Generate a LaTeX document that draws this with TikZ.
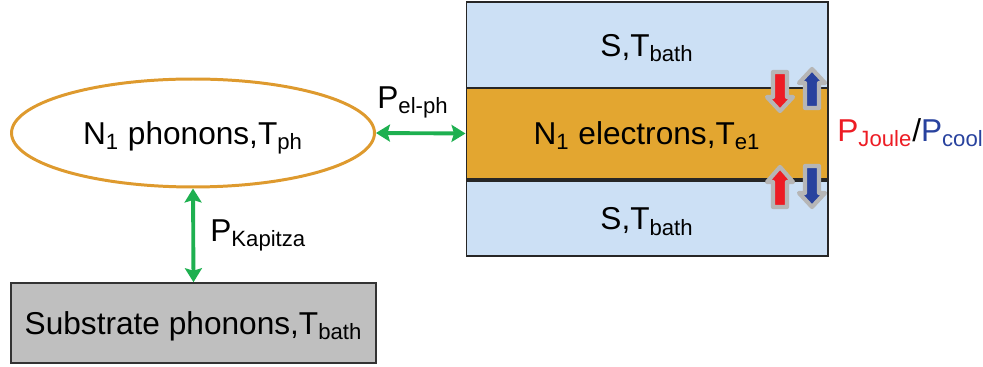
\documentclass[tikz,border=0pt]{standalone}
\usepackage{fontspec}
\setmainfont{Liberation Sans}
\usepackage{xcolor}
\usetikzlibrary{arrows.meta, shapes.geometric}

\definecolor{leadblue}{RGB}{204,224,245}
\definecolor{elecorange}{RGB}{227,166,48}
\definecolor{phonorange}{RGB}{222,154,46}
\definecolor{subgray}{RGB}{191,191,191}
\definecolor{heatgreen}{RGB}{30,176,80}
\definecolor{jouled}{RGB}{237,28,36}
\definecolor{coolblue}{RGB}{40,66,158}
\definecolor{arrowgray}{RGB}{182,182,182}

% block arrow: x, tail y, neck y, tip y, fill colour
\newcommand{\fatarrow}[5]{%
  \filldraw[draw=arrowgray, line width=2.4pt, line join=round, fill=#5]
    (#1-7,#2) -- (#1-7,#3) -- (#1-13,#3) -- (#1,#4) -- (#1+13,#3)
    -- (#1+7,#3) -- (#1+7,#2) -- cycle;}

\begin{document}
\begin{tikzpicture}[x=0.02cm, y=-0.02cm,
    lbl/.style={font=\fontsize{18}{21}\selectfont, text height=12.9pt, text depth=0pt, inner sep=0pt},
    box/.style={lbl, draw=black!85, line width=0.6pt, minimum width=7.24cm},
    heat/.style={draw=heatgreen, line width=2.2pt,
        {Stealth[length=0.28cm,width=0.34cm,inset=0.05cm]}-{Stealth[length=0.28cm,width=0.34cm,inset=0.05cm]}}]
    \useasboundingbox (0,0) rectangle (983,367);

    % Leads and electron island
    \node[box, fill=leadblue, minimum height=1.72cm] (leadtop) at (647,45) {S,T\textsubscript{bath}};
    \node[box, fill=leadblue, minimum height=1.5cm] (leadbot) at (647,218.5) {S,T\textsubscript{bath}};
    \node[box, fill=elecorange, minimum height=1.82cm] (elec) at (647,133.5) {N\textsubscript{1} electrons,T\textsubscript{e1}};

    % Phonon baths
    \node[lbl, ellipse, draw=phonorange, line width=1.7pt, minimum width=7.26cm, minimum height=2.16cm] (phonons) at (193,133) {N\textsubscript{1} phonons,T\textsubscript{ph}};
    \node[lbl, draw=black!80, line width=0.9pt, fill=subgray, minimum width=7.3cm, minimum height=1.6cm] (substrate) at (193.5,323) {Substrate phonons,T\textsubscript{bath}};

    % Heat flows
    \draw[heat] (phonons.east) -- (elec.west);
    \draw[heat] (phonons.south) -- (substrate.north);
    \node[lbl, anchor=west] (pelph) at (377,97) {P\textsubscript{el-ph}};
    \node[lbl, anchor=west] (pkap) at (210,230) {P\textsubscript{Kapitza}};
    \node[lbl, anchor=west] (pjoule) at (837,130) {\color{jouled}P\textsubscript{Joule}\color{black}/\color{coolblue}P\textsubscript{cool}};

    % Joule heating and cooling at the NIS contacts
    \fatarrow{780}{72}{97}{111}{jouled}
    \fatarrow{812}{108}{83}{69}{coolblue}
    \fatarrow{780}{207}{182}{167}{jouled}
    \fatarrow{812}{166}{193}{207}{coolblue}
\end{tikzpicture}
\end{document}
